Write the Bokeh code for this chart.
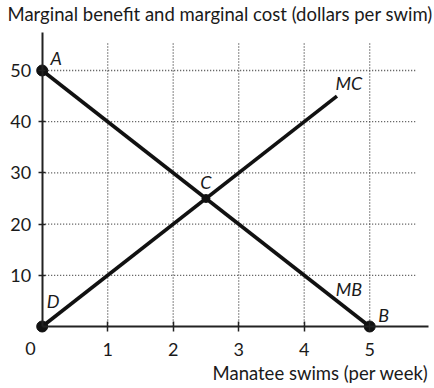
from bokeh.plotting import figure
from bokeh.models import Range1d, FixedTicker, ColumnDataSource, Label
from bokeh.core.properties import value
from bokeh.embed import file_html
from bokeh.resources import INLINE

# ---- data ----
mb_x = [0, 5]
mb_y = [50, 0]
mc_x = [0, 4.5]
mc_y = [0, 45]
end_names = ["A", "B", "D"]
end_x = [0, 5, 0]
end_y = [50, 0, 0]
eq_names = ["C"]
eq_x = [2.5]
eq_y = [25]
curve_names = ["MC", "MB"]
curve_label_x = [4.5, 4.5]
curve_label_y = [45, 5]
x_ticks = [1, 2, 3, 4, 5]
x_tick_labels = ["1", "2", "3", "4", "5"]
y_ticks = [10, 20, 30, 40, 50]
y_tick_labels = ["10", "20", "30", "40", "50"]
origin_label = "0"
title_text = "Marginal benefit and marginal cost (dollars per swim)"
x_title = "Manatee swims (per week)"

# ---- layout (page pixels -> data) ----
W, H = 432, 384
OFF = 0                    # page offset of the canvas
PX0, PXU = 41.7, 65.5      # page x of x=0, px per unit
PY0, PYU = 326.0, 5.12     # page y of y=0, px per unit


def dx(px):
    return (px - PX0) / PXU


def dy(py):
    return (PY0 - py) / PYU


X0, X1 = dx(OFF), dx(OFF + W)
Y0, Y1 = dy(OFF + H), dy(OFF)

FONT = "Lato"
INK = "#1a1a1a"

p = figure(width=W, height=H, x_range=Range1d(X0, X1), y_range=Range1d(Y0, Y1),
           output_backend="svg", toolbar_location=None, min_border=0,
           outline_line_color=None, background_fill_color="white",
           border_fill_color="white")
p.xgrid.visible = False
p.ygrid.visible = False

# dotted grid
grid_right = dx(415)
grid_top = dy(43)
p.segment(x0=[0] * len(y_ticks), y0=y_ticks, x1=[grid_right] * len(y_ticks), y1=y_ticks,
          line_dash="1 2", line_color="#444444", line_width=1.3)
p.segment(x0=x_ticks, y0=[0] * len(x_ticks), x1=x_ticks, y1=[grid_top] * len(x_ticks),
          line_dash="1 2", line_color="#444444", line_width=1.3)

# axes
xa = p.xaxis[0]
xa.fixed_location = 0
xa.bounds = (0, dx(428))
xa.ticker = FixedTicker(ticks=x_ticks)
xa.major_label_overrides = {t: l for t, l in zip(x_ticks, x_tick_labels)}
xa.major_tick_in = 5
xa.major_tick_out = 5
xa.minor_tick_line_color = None
xa.axis_line_width = 2
xa.axis_line_color = "#222222"
xa.major_tick_line_width = 1.5
xa.major_tick_line_color = "#222222"
xa.major_label_text_font = FONT
xa.major_label_text_font_size = "18px"
xa.major_label_text_color = INK
xa.major_label_standoff = 11

ya = p.yaxis[0]
ya.fixed_location = 0
ya.bounds = (0, dy(32))
ya.ticker = FixedTicker(ticks=y_ticks)
ya.major_label_overrides = {t: l for t, l in zip(y_ticks, y_tick_labels)}
ya.major_tick_in = 3
ya.major_tick_out = 4
ya.minor_tick_line_color = None
ya.axis_line_width = 2
ya.axis_line_color = "#222222"
ya.major_tick_line_width = 1.5
ya.major_tick_line_color = "#222222"
ya.major_label_text_font = FONT
ya.major_label_text_font_size = "18px"
ya.major_label_text_color = INK
ya.major_label_standoff = 7

# curves
p.line(mb_x, mb_y, line_width=3.6, line_color="#111111")
p.line(mc_x, mc_y, line_width=3.6, line_color="#111111")

# points
p.scatter(end_x, end_y, size=11, color="#111111")
p.scatter(eq_x, eq_y, size=8, color="#111111")

# point / curve labels
offsets = {"A": (14, -13), "B": (14, -12), "C": (0, -17), "D": (11, -26),
           "MC": (12, -13), "MB": (12, -12)}
names = end_names + eq_names + curve_names
lx = end_x + eq_x + curve_label_x
ly = end_y + eq_y + curve_label_y
src = ColumnDataSource(dict(x=lx, y=ly, t=names,
                            ox=[offsets[n][0] for n in names],
                            oy=[offsets[n][1] for n in names]))
p.text(x="x", y="y", text="t", x_offset="ox", y_offset="oy", source=src,
       text_font=value(FONT), text_font_style="italic", text_font_size="18px",
       text_color=INK, text_align="center", text_baseline="middle")

# origin label, title, axis title
p.add_layout(Label(x=dx(30), y=dy(348), text=origin_label, text_font=FONT,
                   text_font_size="18px", text_color=INK, text_align="center",
                   text_baseline="alphabetic"))
p.add_layout(Label(x=dx(7), y=dy(13), text=title_text, text_font=FONT,
                   text_font_size="18.5px", text_color=INK, text_align="left",
                   text_baseline="alphabetic"))
p.add_layout(Label(x=dx(428), y=dy(372), text=x_title, text_font=FONT,
                   text_font_size="18.5px", text_color=INK, text_align="right",
                   text_baseline="alphabetic"))

open("out.html", "w").write(file_html(p, INLINE))
